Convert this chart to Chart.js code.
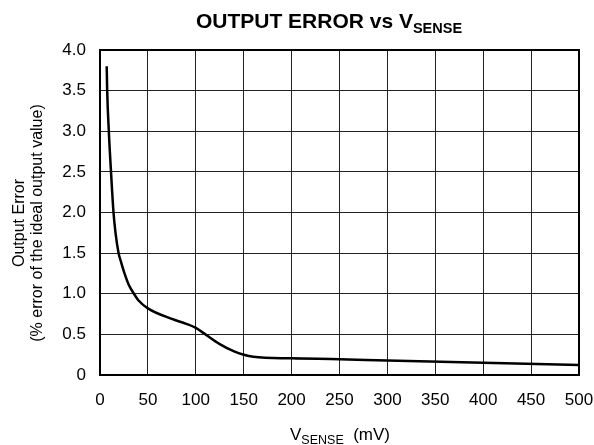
<!DOCTYPE html>
<html>
<head>
<meta charset="utf-8">
<script src="https://cdn.jsdelivr.net/npm/chart.js@4.4.1/dist/chart.umd.min.js"></script>
<style>
  html, body { margin: 0; padding: 0; background: #fff; }
  #wrap { width: 594px; height: 445px; }
</style>
</head>
<body>
<div id="wrap"><canvas id="cv" width="594" height="445"></canvas></div>
<script>
// data
const vSense = [7, 7.5, 9.2, 11.5, 14.1, 16.2, 19.4, 22, 25.6, 30, 35.4, 40, 50, 75, 90, 100, 110, 125, 140, 150, 160, 200, 250, 300, 400, 500];
const outErr = [3.80, 3.50, 3.00, 2.50, 2.00, 1.75, 1.50, 1.39, 1.25, 1.11, 1.00, 0.92, 0.82, 0.69, 0.63, 0.58, 0.50, 0.38, 0.29, 0.25, 0.225, 0.205, 0.195, 0.178, 0.152, 0.122];
const xTicks = [0, 50, 100, 150, 200, 250, 300, 350, 400, 450, 500];
const yTicks = [0, 0.5, 1.0, 1.5, 2.0, 2.5, 3.0, 3.5, 4.0];

const FONT = 'Arial, "Liberation Sans", sans-serif';

// draws "main" then a lowered "sub" then "rest", centred on cx
function subText(c, cx, y, main, sub, rest, size, subSize, bold) {
  const w = bold ? 'bold ' : '';
  c.font = w + size + 'px ' + FONT;
  const w1 = c.measureText(main).width;
  const w3 = rest ? c.measureText(rest).width : 0;
  c.font = w + subSize + 'px ' + FONT;
  const w2 = c.measureText(sub).width;
  let x = cx - (w1 + w2 + w3) / 2;
  c.textAlign = 'left'; c.textBaseline = 'alphabetic'; c.fillStyle = '#000';
  c.font = w + size + 'px ' + FONT; c.fillText(main, x, y); x += w1;
  c.font = w + subSize + 'px ' + FONT; c.fillText(sub, x, y + size * 0.22); x += w2;
  if (rest) { c.font = w + size + 'px ' + FONT; c.fillText(rest, x, y); }
}

const decor = {
  id: 'decor',
  afterDraw(chart) {
    const c = chart.ctx, a = chart.chartArea;
    c.save();
    c.strokeStyle = '#000'; c.lineWidth = 2;
    c.strokeRect(a.left, a.top, a.right - a.left, a.bottom - a.top);
    subText(c, 329, 28, 'OUTPUT ERROR vs V', 'SENSE', '', 21, 14.5, true);
    subText(c, 340, 440, 'V', 'SENSE', '  (mV)', 17, 12.5, false);
    c.font = '16px ' + FONT; c.textAlign = 'center'; c.textBaseline = 'middle';
    c.save(); c.translate(20, 223); c.rotate(-Math.PI / 2); c.fillText('Output Error', 0, 0); c.restore();
    c.save(); c.translate(38, 223); c.rotate(-Math.PI / 2); c.fillText('(% error of the ideal output value)', 0, 0); c.restore();
    c.restore();
  }
};

new Chart(document.getElementById('cv'), {
  type: 'scatter',
  data: {
    datasets: [{
      data: vSense.map((x, i) => ({ x, y: outErr[i] })),
      showLine: true,
      borderColor: '#000',
      borderWidth: 2.5,
      pointRadius: 0,
      cubicInterpolationMode: 'monotone',
      fill: false,
    }]
  },
  options: {
    responsive: false,
    animation: false,
    layout: { padding: { left: 0, top: 50, right: 15, bottom: 0 } },
    plugins: { legend: { display: false }, tooltip: { enabled: false } },
    scales: {
      x: {
        type: 'linear', min: 0, max: 500,
        afterBuildTicks: (s) => { s.ticks = xTicks.map((v) => ({ value: v })); },
        afterFit: (s) => { s.height = 70; s.paddingLeft = 0; s.paddingRight = 0; },
        grid: { color: '#222', lineWidth: 1, drawTicks: false },
        border: { display: false },
        ticks: { color: '#000', font: { family: FONT, size: 17 }, padding: 15, maxRotation: 0 },
      },
      y: {
        type: 'linear', min: 0, max: 4,
        afterBuildTicks: (s) => { s.ticks = yTicks.map((v) => ({ value: v })); },
        afterFit: (s) => { s.width = 100; s.paddingTop = 0; s.paddingBottom = 0; },
        grid: { color: '#222', lineWidth: 1, drawTicks: false },
        border: { display: false },
        ticks: { color: '#000', font: { family: FONT, size: 17 }, padding: 14,
          callback: (v) => (v === 0 ? '0' : v.toFixed(1)) },
      },
    },
  },
  plugins: [decor],
});
</script>
</body>
</html>
